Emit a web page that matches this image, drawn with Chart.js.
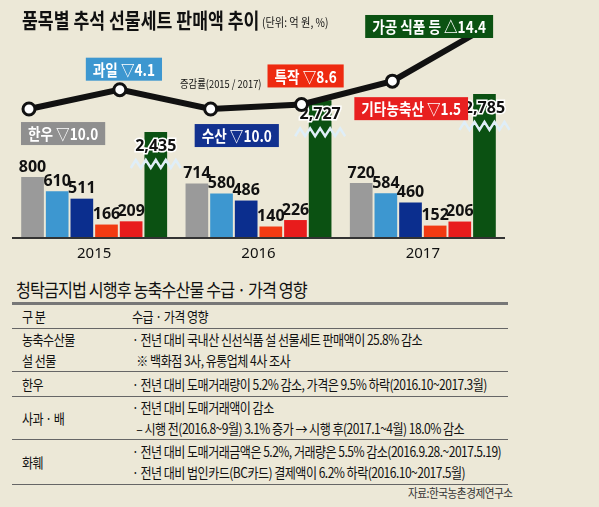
<!DOCTYPE html>
<html><head><meta charset="utf-8">
<script src="https://cdn.jsdelivr.net/npm/chart.js@4"></script>
<style>
body{margin:0;background:#ece8d7;font-family:"Noto Sans CJK KR",sans-serif;color:#111;}
#wrap{position:relative;width:599px;height:507px;overflow:hidden;}
canvas{position:absolute;left:0;top:0;}
#t2{position:absolute;left:16px;top:276px;font-size:18px;letter-spacing:-1px;transform:scaleX(0.9);transform-origin:left;}
table{position:absolute;left:12px;top:302px;width:496px;border-collapse:collapse;font-size:14px;letter-spacing:-0.6px;table-layout:fixed;}
td{border-bottom:1.5px solid #666;vertical-align:middle;padding:0 0 0 10px;line-height:21px;white-space:nowrap;overflow:visible;}
td div{transform:scaleX(0.86);transform-origin:left;}
tr.h td{border-top:3px solid #777;height:23px;}
td.k{width:100px;}
#src{position:absolute;left:408px;top:484px;font-size:12px;color:#333;letter-spacing:-0.5px;transform:scaleX(0.88);transform-origin:left;}
</style></head><body>
<div id="wrap">
<canvas id="c" width="599" height="270"></canvas>
<canvas id="l" width="599" height="270"></canvas>
<div id="t2">청탁금지법 시행후 농축수산물 수급 · 가격 영향</div>
<table>
<tr class="h"><td class="k"><div>구 분</div></td><td><div>수급 · 가격 영향</div></td></tr>
<tr><td class="k" style="height:41px"><div>농축수산물<br>설 선물</div></td><td><div>· 전년 대비 국내산 신선식품 설 선물세트 판매액이 25.8% 감소<br>&nbsp;&nbsp;※ 백화점 3사, 유통업체 4사 조사</div></td></tr>
<tr><td class="k" style="height:24px"><div>한우</div></td><td><div>· 전년 대비 도매거래량이 5.2% 감소, 가격은 9.5% 하락(2016.10~2017.3월)</div></td></tr>
<tr><td class="k" style="height:41px"><div>사과 · 배</div></td><td><div>· 전년 대비 도매거래액이 감소<br>&nbsp;&nbsp;– 시행 전(2016.8~9월) 3.1% 증가 → 시행 후(2017.1~4월) 18.0% 감소</div></td></tr>
<tr><td class="k" style="height:44px"><div>화훼</div></td><td><div>· 전년 대비 도매거래금액은 5.2%, 거래량은 5.5% 감소(2016.9.28.~2017.5.19)<br>· 전년 대비 법인카드(BC카드) 결제액이 6.2% 하락(2016.10~2017.5월)</div></td></tr>
</table>
<div id="src">자료:한국농촌경제연구소</div>
</div>
<script>
const years = ["2015", "2016", "2017"];
const items = ["한우", "과일", "수산", "특작", "기타농축산", "가공 식품 등"];
const hanwoo = [800, 714, 720];
const fruit = [610, 580, 584];
const fish = [511, 486, 460];
const special = [166, 140, 152];
const otherAgri = [209, 226, 206];
const processed = [2435, 2727, 2785];
const changeRate = [-10.0, -4.1, -10.0, -8.6, -1.5, 14.4];
const changeText = ["▽10.0", "▽4.1", "▽10.0", "▽8.6", "▽1.5", "△14.4"];

const colors = ["#9a9a9a", "#3d97d0", "#0b2e8e", "#f23a12", "#e81c1c", "#0b5112"];
const boxColors = ["#8f8f8f", "#3d97d0", "#12318f", "#ee2a10", "#e82020", "#0b5212"];
// label box offsets relative to each line point
const boxPos = [[-8, 13], [-34, -32], [-16, 15], [-34, -40], [-38, 16], [-118, -14]];

const series = [hanwoo, fruit, fish, special, otherAgri];
const datasets = series.map((d, i) => ({
    data: d, backgroundColor: colors[i], yAxisID: 'y'
}));
datasets.push({data: processed, backgroundColor: colors[5], yAxisID: 'y2'});

const PAD = {left: 12, right: 94, top: 20, bottom: 33};

function scaledText(ctx, txt, x, y, sx) {
    ctx.save();
    ctx.translate(x, y);
    ctx.scale(sx, 1);
    ctx.fillText(txt, 0, 0);
    ctx.restore();
}

const barPlugin = {
    id: 'barText',
    afterDatasetsDraw(chart) {
        const ctx = chart.ctx;
        const area = chart.chartArea;
        ctx.save();
        ctx.strokeStyle = '#333'; ctx.lineWidth = 2;
        ctx.beginPath(); ctx.moveTo(area.left, area.bottom + 1); ctx.lineTo(area.right, area.bottom + 1); ctx.stroke();
        const xs = chart.scales.x;
        ctx.fillStyle = '#111'; ctx.font = '15px "Liberation Sans Narrow", "Noto Sans"';
        ctx.textAlign = 'center'; ctx.textBaseline = 'middle';
        years.forEach((y, i) => ctx.fillText(y, xs.getPixelForValue(i), 254));
        ctx.font = 'bold 16px "Liberation Sans Narrow", "Noto Sans"';
        for (let s = 0; s < 5; s++) {
            chart.getDatasetMeta(s).data.forEach((b, i) => {
                ctx.fillStyle = '#111';
                ctx.fillText(series[s][i], b.x, b.y - 10);
            });
        }
        chart.getDatasetMeta(5).data.forEach((b, i) => {
            ctx.strokeStyle = '#dfeef8'; ctx.lineWidth = 2.5;
            ctx.beginPath();
            const zy = b.y + 32;
            for (let k = 0; k <= 10; k++) {
                const px = b.x - 25 + k * 5;
                const py = zy + (k % 2 ? -4 : 4);
                k ? ctx.lineTo(px, py) : ctx.moveTo(px, py);
            }
            ctx.stroke();
            const t = processed[i].toLocaleString('en-US');
            ctx.lineWidth = 3; ctx.strokeStyle = '#fff';
            ctx.strokeText(t, b.x, b.y + 14);
            ctx.fillStyle = '#111'; ctx.fillText(t, b.x, b.y + 14);
        });
        ctx.restore();
    }
};

const linePlugin = {
    id: 'lineText',
    afterDatasetsDraw(chart) {
        const ctx = chart.ctx;
        ctx.save();
        ctx.textBaseline = 'middle';
        ctx.font = 'bold 16px "Noto Sans CJK KR"';
        chart.getDatasetMeta(0).data.forEach((p, i) => {
            const txt = items[i] + ' ' + changeText[i];
            const w = ctx.measureText(txt).width * 0.85 + 14;
            const bx = p.x + boxPos[i][0], by = p.y + boxPos[i][1];
            ctx.fillStyle = boxColors[i];
            ctx.fillRect(bx, by, w, 23);
            ctx.fillStyle = '#fff';
            scaledText(ctx, txt, bx + 7, by + 12, 0.85);
        });
        ctx.fillStyle = '#111';
        ctx.font = 'bold 21px "Noto Sans CJK KR"';
        scaledText(ctx, '품목별 추석 선물세트 판매액 추이', 22, 20, 0.82);
        ctx.font = '12px "Noto Sans CJK KR"';
        scaledText(ctx, '(단위: 억 원, %)', 262, 22, 0.85);
        ctx.font = '11px "Noto Sans CJK KR"';
        scaledText(ctx, '증감률(2015 / 2017)', 180, 84, 0.85);
        ctx.restore();
    }
};

new Chart(document.getElementById('c'), {
    type: 'bar',
    data: {labels: years, datasets: datasets},
    options: {
        responsive: false, animation: false,
        layout: {padding: PAD},
        datasets: {bar: {barPercentage: 0.92, categoryPercentage: 0.9}},
        plugins: {legend: {display: false}, tooltip: {enabled: false}},
        scales: {
            x: {display: false},
            y: {display: false, min: 0, max: 2893},
            y2: {display: false, min: 1468, max: 3466}
        }
    },
    plugins: [barPlugin]
});

new Chart(document.getElementById('l'), {
    type: 'line',
    data: {datasets: [{
        data: changeRate.map((v, i) => ({x: i, y: v})),
        borderColor: '#111', borderWidth: 6,
        pointRadius: 6, pointBackgroundColor: '#fff', pointBorderColor: '#111',
        pointBorderWidth: 3, tension: 0
    }]},
    options: {
        responsive: false, animation: false,
        layout: {padding: PAD},
        plugins: {legend: {display: false}, tooltip: {enabled: false}},
        scales: {
            x: {type: 'linear', display: false, min: -0.187, max: 5.24},
            y: {display: false, min: -49, max: 17.14}
        }
    },
    plugins: [linePlugin]
});
</script>
</body></html>
